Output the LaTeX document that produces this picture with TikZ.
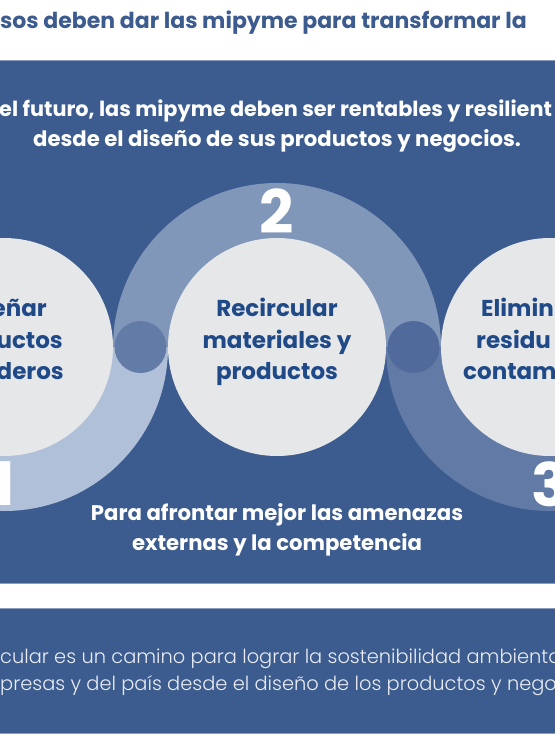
\documentclass[tikz,border=0pt]{standalone}
\usepackage{fontspec}
\setmainfont{Poppins}
\newfontfamily\lightfont{Poppins Light}
\definecolor{panelblue}{HTML}{3C5B8E}
\definecolor{paneledge}{HTML}{8A9CBE}
\definecolor{discgray}{HTML}{E6E7E9}
\definecolor{ringmid}{HTML}{8197B9}
\definecolor{ringlight}{HTML}{B1C0D9}
\definecolor{ringdark}{HTML}{617AA6}
\definecolor{joinlight}{HTML}{637CA7}
\definecolor{joindark}{HTML}{4F6A9B}
\definecolor{labelblue}{HTML}{1F4987}
\definecolor{softwhite}{HTML}{E9EDF3}
\usetikzlibrary{positioning}

\begin{document}
\begin{tikzpicture}[x=1pt, y=-1pt,
							panel/.style={fill=panelblue, draw=paneledge, line width=0.8pt},
							disc/.style={circle, fill=discgray, minimum size=218pt, inner sep=0pt},
							joint/.style={circle, minimum size=52pt, inner sep=0pt},
							disctext/.style={text=labelblue, font=\fontsize{23}{31.5}\selectfont\bfseries, align=center},
							num/.style={text=white, font=\fontsize{60}{60}\selectfont\bfseries, inner sep=0pt},
							lead/.style={text=white, font=\fontsize{21.2}{30}\selectfont\bfseries, inner sep=0pt},
							note/.style={text=softwhite, font=\lightfont\fontsize{19.4}{27}\selectfont, inner sep=0pt}
						]
						\clip (0,0) rectangle (555,740);
						\fill[white] (0,0) rectangle (555,740);
						\node[text=panelblue, font=\fontsize{22}{22}\selectfont\bfseries, anchor=base west, inner sep=0pt] (title) at (0,28) {sos deben dar las mipyme para transformar la};
						\draw[panel] (-2,60) rectangle (557,583);
						\draw[panel] (-2,608) rectangle (557,733);
						\node[lead, font=\fontsize{20.8}{30}\selectfont\bfseries, anchor=base west] (lead1) at (-1,116) {el futuro, las mipyme deben ser rentables y resilient};
						\node[lead, anchor=base] (lead2) at (277,146) {desde el diseño de sus productos y negocios.};
						\fill[ringlight] (-160,347) arc[start angle=180, end angle=0, radius=164] -- cycle;
						\fill[ringmid] (113,347) arc[start angle=180, end angle=360, radius=164] -- cycle;
						\fill[ringdark] (386,347) arc[start angle=180, end angle=0, radius=164] -- cycle;
						\foreach \x/\n in {4/1, 277/2, 550/3} {
								\node[disc] (d\n) at (\x,347) {};
							}
						\node[joint, fill=joinlight] (j1) at (140.5,347) {};
						\node[joint, fill=joindark] (j2) at (413.5,347) {};
						\node[num] (n1) at (4,484) {1};
						\node[num] (n2) at (277,211) {2};
						\node[num] (n3) at (550,484) {3};
						\node[disctext] (t2) at (277,342) {Recircular\\materiales y\\productos};
						\node[disctext, anchor=base east, inner sep=0pt] (t1a) at (47,316) {eñar};
						\node[disctext, anchor=base east, inner sep=0pt] (t1b) at (63,348) {uctos};
						\node[disctext, anchor=base east, inner sep=0pt] (t1c) at (64,379) {deros};
						\node[disctext, anchor=base west, inner sep=0pt] (t3a) at (481,316) {Elimin};
						\node[disctext, anchor=base west, inner sep=0pt] (t3b) at (476,348) {residu};
						\node[disctext, anchor=base west, inner sep=0pt] (t3c) at (463,379) {contami};
						\node[lead, anchor=base] (goal1) at (277,520) {Para afrontar mejor las amenazas};
						\node[lead, anchor=base] (goal2) at (277,550) {externas y la competencia};
						\node[note, anchor=base west] (note1) at (0,663) {cular es un camino para lograr la sostenibilidad ambienta};
						\node[note, anchor=base west] (note2) at (0,690) {presas y del país desde el diseño de los productos y nego};
					\end{tikzpicture}
\end{document}
